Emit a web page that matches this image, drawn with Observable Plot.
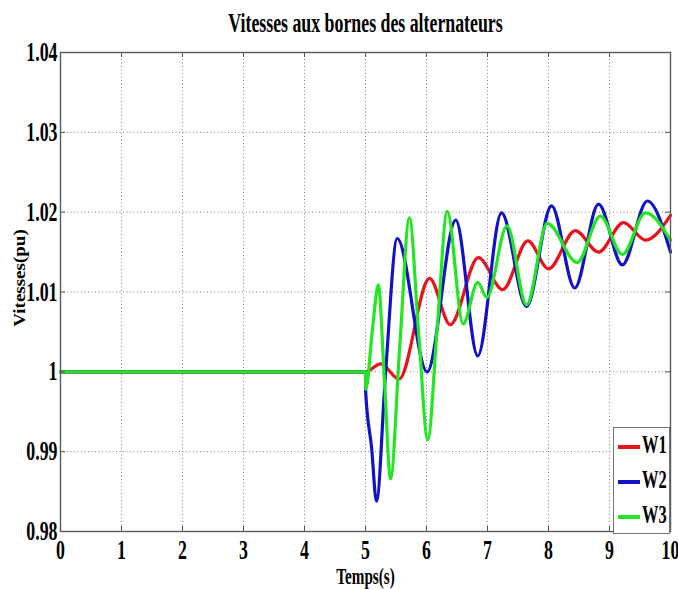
<!DOCTYPE html>
<html>
<head>
<meta charset="utf-8">
<script src="https://cdn.jsdelivr.net/npm/d3@7"></script>
<script src="https://cdn.jsdelivr.net/npm/@observablehq/plot@0.6"></script>
<style>
  html, body { margin: 0; padding: 0; background: #fff; }
  #wrap { position: relative; width: 678px; height: 589px; overflow: hidden; }
  #legend { position: absolute; left: 613px; top: 427px; width: 57px; height: 107px;
            border: 1px solid #777; background: #fff; box-sizing: border-box; }
  .lrow { position: absolute; left: 3px; height: 26px; width: 60px; }
  .lline { position: absolute; left: 1px; top: 11px; width: 22px; height: 3.5px; }
  .ltext { position: absolute; left: 25px; top: -3px; font-family: "Liberation Serif", serif;
           font-weight: bold; font-size: 25px; transform: scaleX(0.66); transform-origin: left center;
           white-space: nowrap; color: #000; }
</style>
</head>
<body>
<div id="wrap"></div>
<script>
const titleText = "Vitesses aux bornes des alternateurs";
const xLabel = "Temps(s)";
const yLabel = "Vitesses(pu)";

const xTicks = [0, 1, 2, 3, 4, 5, 6, 7, 8, 9, 10];
const xTickLabels = ["0", "1", "2", "3", "4", "5", "6", "7", "8", "9", "10"];
const yTicks = [0.98, 0.99, 1, 1.01, 1.02, 1.03, 1.04];
const yTickLabels = ["0.98", "0.99", "1", "1.01", "1.02", "1.03", "1.04"];

const seriesNames = ["W1", "W2", "W3"];
const seriesColors = ["#e6141b", "#1212c8", "#22e622"];

const timeW1 = [0, 5, 5.25, 5.55, 6.05, 6.39, 6.85, 7.25, 7.66, 8.0, 8.44, 8.82, 9.23, 9.59, 10];
const valW1  = [1.0, 1.0, 1.001, 0.9991, 1.0117, 1.0059, 1.0143, 1.0103, 1.0164, 1.0129, 1.0177, 1.015, 1.0187, 1.0165, 1.0196];

const timeW2 = [0, 5, 5.003, 5.1, 5.18, 5.33, 5.52, 6.01, 6.48, 6.84, 7.23, 7.64, 8.05, 8.43, 8.82, 9.21, 9.62, 10];
const valW2  = [1.0, 1.0, 0.9975, 0.9905, 0.9838, 1.0, 1.0167, 1.0, 1.019, 1.002, 1.0199, 1.0082, 1.0208, 1.0105, 1.021, 1.0134, 1.0214, 1.015];

const timeW3 = [0, 5, 5.005, 5.11, 5.21, 5.31, 5.41, 5.56, 5.72, 5.87, 6.02, 6.18, 6.34, 6.6, 6.84, 6.99, 7.32, 7.64, 7.98, 8.47, 8.85, 9.21, 9.59, 10];
const valW3  = [1.0, 1.0, 0.9978, 1.005, 1.0109, 0.999, 0.9866, 1.003, 1.0193, 1.005, 0.9915, 1.006, 1.0201, 1.006, 1.0112, 1.0093, 1.0183, 1.0084, 1.0186, 1.0137, 1.0195, 1.0147, 1.0199, 1.0165];

const seriesTimes = [timeW1, timeW2, timeW3];
const seriesVals = [valW1, valW2, valW3];

const data = seriesNames.flatMap((name, i) =>
  seriesTimes[i].map((t, j) => ({series: name, t, v: seriesVals[i][j]})));

const W = 678, H = 589, mL = 60, mR = 8, mT = 52, mB = 58;
const fw = W - mL - mR, fh = H - mT - mB;
const serif = "Liberation Serif";
const gridStyle = {stroke: "#808080", strokeOpacity: 1, strokeWidth: 1, strokeDasharray: "1,2.5"};

const chart = Plot.plot({
  width: W, height: H,
  marginLeft: mL, marginRight: mR, marginTop: mT, marginBottom: mB,
  style: {fontFamily: serif, fontWeight: "bold", background: "#fff", color: "#000"},
  x: {domain: [0, 10]},
  y: {domain: [0.98, 1.04]},
  color: {domain: seriesNames, range: seriesColors},
  marks: [
    Plot.gridX(xTicks.slice(1, -1), gridStyle),
    Plot.gridY(yTicks.slice(1, -1), gridStyle),
    Plot.line(data, {x: "t", y: "v", z: "series", stroke: "series", strokeWidth: 3.2, curve: "monotone-x"}),
    Plot.ruleX(xTicks, {stroke: "#555", insetTop: fh - 5}),
    Plot.ruleX(xTicks, {stroke: "#555", insetBottom: fh - 5}),
    Plot.ruleY(yTicks, {stroke: "#555", insetLeft: fw - 5}),
    Plot.ruleY(yTicks, {stroke: "#555", insetRight: fw - 5}),
    Plot.frame({stroke: "#5a5a5a", strokeWidth: 1.4}),
    Plot.axisX(xTicks, {tickSize: 0, tickPadding: 8, fontSize: 27, fontWeight: "bold", fontFamily: serif,
      label: null, tickFormat: d => xTickLabels[xTicks.indexOf(d)]}),
    Plot.axisY(yTicks, {tickSize: 0, tickPadding: 3, fontSize: 27, fontWeight: "bold", fontFamily: serif,
      label: null, tickFormat: d => yTickLabels[yTicks.indexOf(d)]}),
    Plot.text([titleText], {frameAnchor: "top", lineAnchor: "middle", textAnchor: "middle", dy: -29,
      fontSize: 27, fontWeight: "bold", fontFamily: serif, fill: "#000"}),
    Plot.text([xLabel], {frameAnchor: "bottom", lineAnchor: "middle", textAnchor: "middle", dy: 45,
      fontSize: 23, fontWeight: "bold", fontFamily: serif, fill: "#000"}),
    Plot.text([yLabel], {frameAnchor: "left", lineAnchor: "middle", textAnchor: "middle", rotate: -90,
      dx: -41, dy: -14, fontSize: 19, fontWeight: "bold", fontFamily: serif, fill: "#000"})
  ]
});

const wrap = document.getElementById("wrap");
wrap.appendChild(chart);

// horizontally condense all text (the reference is squeezed horizontally)
const svgRect = chart.getBoundingClientRect();
chart.querySelectorAll("text").forEach(t => {
  const r = t.getBoundingClientRect();
  const anchor = getComputedStyle(t).textAnchor;
  const rotated = r.height > r.width * 1.5 && t.textContent.length > 2;
  const k = rotated ? 0.85 : 0.66;
  let ax;
  if (!rotated && anchor === "end") ax = r.right - svgRect.left;
  else if (!rotated && anchor === "start") ax = r.left - svgRect.left;
  else ax = (r.left + r.right) / 2 - svgRect.left;
  const M = t.getCTM();
  const P = t.parentNode.getCTM();
  const S = new DOMMatrix([k, 0, 0, 1, ax * (1 - k), 0]);
  const Mm = new DOMMatrix([M.a, M.b, M.c, M.d, M.e, M.f]);
  const Pm = new DOMMatrix([P.a, P.b, P.c, P.d, P.e, P.f]);
  const T = Pm.inverse().multiply(S).multiply(Mm);
  t.setAttribute("transform", `matrix(${T.a},${T.b},${T.c},${T.d},${T.e},${T.f})`);
});

// legend
const legend = document.createElement("div");
legend.id = "legend";
seriesNames.forEach((name, i) => {
  const row = document.createElement("div");
  row.className = "lrow";
  row.style.top = (6 + i * 35) + "px";
  const line = document.createElement("div");
  line.className = "lline";
  line.style.background = seriesColors[i];
  const txt = document.createElement("div");
  txt.className = "ltext";
  txt.textContent = name;
  row.appendChild(line);
  row.appendChild(txt);
  legend.appendChild(row);
});
wrap.appendChild(legend);
</script>
</body>
</html>
